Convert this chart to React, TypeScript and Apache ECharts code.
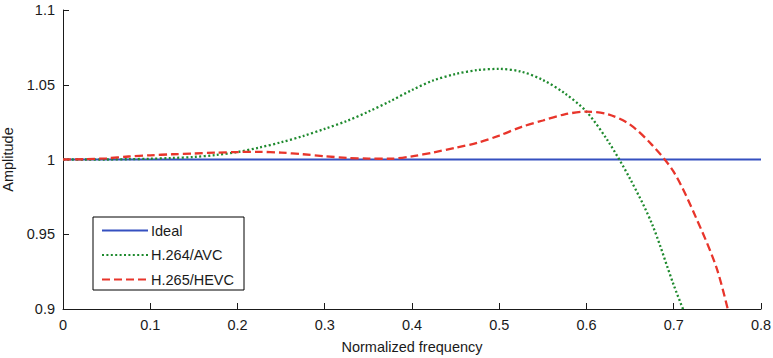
import React, { useEffect, useRef } from "react";
import * as echarts from "echarts";

const idealFreq = [0, 0.8];
const idealAmp = [1, 1];

const avcFreq = [0, 0.025, 0.05, 0.075, 0.1, 0.125, 0.15, 0.175, 0.2, 0.225, 0.25, 0.275, 0.3, 0.325, 0.35, 0.375, 0.4, 0.425, 0.45, 0.475, 0.5, 0.525, 0.55, 0.575, 0.6, 0.625, 0.65, 0.675, 0.7, 0.72];
const avcAmp = [1.0, 1.0, 1.0, 1.0002, 1.0005, 1.001, 1.0017, 1.003, 1.005, 1.008, 1.0115, 1.0157, 1.0205, 1.0257, 1.032, 1.039, 1.0465, 1.053, 1.0572, 1.0598, 1.0606, 1.0588, 1.0532, 1.0443, 1.032, 1.012, 0.987, 0.957, 0.916, 0.886];

const hevcFreq = [0, 0.025, 0.05, 0.075, 0.1, 0.125, 0.15, 0.175, 0.2, 0.225, 0.25, 0.275, 0.3, 0.325, 0.35, 0.375, 0.4, 0.425, 0.45, 0.475, 0.5, 0.525, 0.55, 0.575, 0.6, 0.625, 0.65, 0.675, 0.7, 0.725, 0.75, 0.77];
const hevcAmp = [1.0, 1.0002, 1.0008, 1.002, 1.0028, 1.0035, 1.004, 1.0046, 1.005, 1.0051, 1.0046, 1.0035, 1.0022, 1.0011, 1.0006, 1.0005, 1.0021, 1.0048, 1.0078, 1.0112, 1.016, 1.0217, 1.0261, 1.0302, 1.032, 1.0302, 1.0233, 1.0098, 0.9917, 0.9618, 0.9258, 0.88];

const xTicks = { min: 0, max: 0.8, interval: 0.1 };
const yTicks = { min: 0.9, max: 1.1, interval: 0.05 };

const pair = (xs: number[], ys: number[]) => xs.map((x, i) => [x, ys[i]]);

const FONT = "'Liberation Sans', Arial, sans-serif";
const FS = 14.5;

export default function App() {
  const ref = useRef<HTMLDivElement>(null);
  useEffect(() => {
    const chart = echarts.init(ref.current!, undefined, { renderer: "svg" });
    chart.setOption({
      animation: false,
      backgroundColor: "#ffffff",
      textStyle: { fontFamily: FONT },
      grid: {
        left: 63,
        top: 10,
        right: 12,
        bottom: 49,
        containLabel: false,
        outerBoundsMode: "none",
      },
      legend: {
        orient: "vertical",
        left: 93,
        top: 217,
        backgroundColor: "#ffffff",
        borderColor: "#000000",
        borderWidth: 1,
        borderRadius: 0,
        padding: [6, 10, 3, 8],
        itemWidth: 46,
        itemHeight: 14,
        itemGap: 9.5,
        itemStyle: { opacity: 0 },
        textStyle: { fontFamily: FONT, fontSize: FS, color: "#1a1a1a", padding: [0, 0, 0, -2] },
        data: ["Ideal", "H.264/AVC", "H.265/HEVC"],
      },
      xAxis: {
        type: "value",
        min: xTicks.min,
        max: xTicks.max,
        interval: xTicks.interval,
        name: "Normalized frequency",
        nameLocation: "middle",
        nameGap: 30,
        nameTextStyle: { fontFamily: FONT, fontSize: FS, color: "#1a1a1a" },
        axisLine: { show: true, onZero: false, lineStyle: { color: "#1a1a1a", width: 1 } },
        axisTick: { show: true, inside: true, length: 6, lineStyle: { color: "#1a1a1a" } },
        axisLabel: {
          fontFamily: FONT,
          fontSize: FS,
          color: "#1a1a1a",
          margin: 8,
          formatter: (v: number) => String(+v.toFixed(2)),
        },
        splitLine: { show: false },
      },
      yAxis: {
        type: "value",
        min: yTicks.min,
        max: yTicks.max,
        interval: yTicks.interval,
        name: "Amplitude",
        nameLocation: "middle",
        nameGap: 41,
        nameTextStyle: { fontFamily: FONT, fontSize: FS, color: "#1a1a1a" },
        axisLine: { show: true, onZero: false, lineStyle: { color: "#1a1a1a", width: 1 } },
        axisTick: { show: true, inside: true, length: 6, lineStyle: { color: "#1a1a1a" } },
        axisLabel: {
          fontFamily: FONT,
          fontSize: FS,
          color: "#1a1a1a",
          margin: 8,
          formatter: (v: number) => String(+v.toFixed(2)),
        },
        splitLine: { show: false },
      },
      series: [
        {
          name: "Ideal",
          type: "line",
          data: pair(idealFreq, idealAmp),
          showSymbol: false,
          symbol: "none",
          color: "#3550c0",
          lineStyle: { color: "#3550c0", width: 2, type: "solid" },
        },
        {
          name: "H.264/AVC",
          type: "line",
          data: pair(avcFreq, avcAmp),
          showSymbol: false,
          symbol: "none",
          smooth: 0.3,
          color: "#1e8a2e",
          lineStyle: { color: "#1e8a2e", width: 2.3, type: [2, 2.4] },
        },
        {
          name: "H.265/HEVC",
          type: "line",
          data: pair(hevcFreq, hevcAmp),
          showSymbol: false,
          symbol: "none",
          smooth: 0.3,
          color: "#e8352b",
          lineStyle: { color: "#e8352b", width: 2.3, type: [8, 4] },
        },
      ],
    });
    return () => chart.dispose();
  }, []);
  return (
    <div
      ref={ref}
      style={{ position: "fixed", left: 0, top: 0, width: 773, height: 358 }}
    />
  );
}
